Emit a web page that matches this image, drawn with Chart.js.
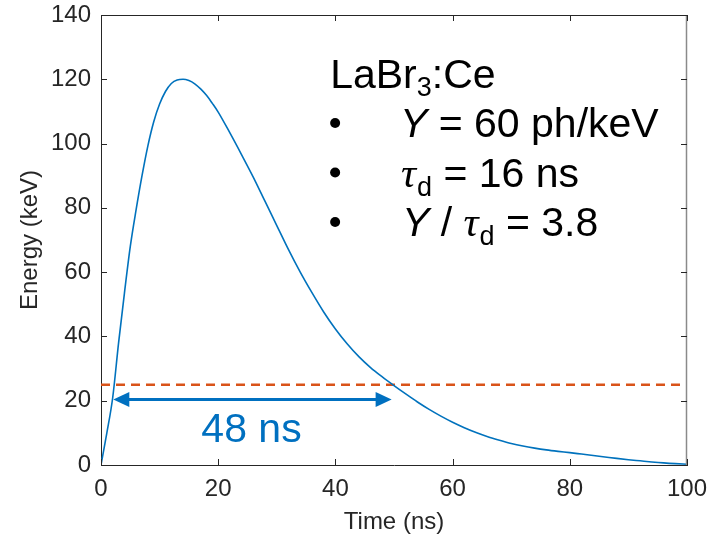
<!DOCTYPE html>
<html><head><meta charset="utf-8">
<script src="https://cdn.jsdelivr.net/npm/chart.js@4"></script>
<style>html,body{margin:0;padding:0;background:#fff}#wrap{width:707px;height:542px}</style>
</head><body><div id="wrap"><canvas id="c" width="707" height="542"></canvas></div>
<script>
// ---- data ----
const timeNs   = [0,1,2,3,4,5,6,7,8,9,10,11,12,13,14,15,16,17,18,19,20,22,24,26,28,30,32,34,36,38,40,42,44,46,48,50,52,54,56,58,60,62,64,66,68,70,72,74,76,78,80,82,84,86,88,90,92,94,96,98,100];
const energyKeV= [0,10,21,38,53.5,68,79.5,90,99.3,106.8,112.3,116.2,118.7,119.8,120,119.6,118.6,117,115,112.5,109.8,103.3,96.5,89.5,82,74.5,67,60,53.6,47.6,42.3,37.7,33.7,30.3,27.4,24.7,22.1,19.6,17.3,15.2,13.3,11.6,10.1,8.8,7.7,6.7,5.9,5.25,4.7,4.25,3.85,3.4,2.95,2.5,2.05,1.65,1.3,0.95,0.65,0.42,0.25];
const thresholdTime = [0,100];
const thresholdKeV  = [25,25];
const widthArrowTime = [2.1,49.6];
const widthArrowKeV  = 20.4;
const widthLabel = '48 ns';
const xTickValues = [0,20,40,60,80,100];
const yTickValues = [0,20,40,60,80,100,120,140];
const xTitle = 'Time (ns)';
const yTitle = 'Energy (keV)';

const BLUE = '#0072BD', ORANGE = '#D95319', ANNOT_BLUE = '#0070C0', AX = '#262626';
const SANS = '"Liberation Sans", Arial, sans-serif';

function drawRuns(ctx, x, y, runs){
  for (const r of runs){
    ctx.font = r.font;
    ctx.fillText(r.t, x, y + (r.dy||0));
    x += ctx.measureText(r.t).width + (r.dx||0);
  }
  return x;
}

const overlay = {
  id:'overlay',
  afterDatasetsDraw(chart){
    const {ctx, chartArea:a, scales:{x,y}} = chart;
    ctx.save();
    // box top/right
    ctx.strokeStyle = AX; ctx.lineWidth = 1;
    ctx.beginPath();
    ctx.moveTo(a.left, a.top+0.5); ctx.lineTo(a.right, a.top+0.5);
    ctx.stroke();
    ctx.strokeStyle = '#8a8a8a'; ctx.lineWidth = 1.5;
    ctx.beginPath();
    ctx.moveTo(a.right-0.5, a.top); ctx.lineTo(a.right-0.5, a.bottom);
    ctx.stroke();
    // inward ticks
    ctx.strokeStyle = AX; ctx.lineWidth = 1;
    const TL = 6;
    ctx.beginPath();
    for (const v of xTickValues){
      const px = Math.round(x.getPixelForValue(v))+0.5;
      ctx.moveTo(px, a.bottom); ctx.lineTo(px, a.bottom-TL);
      ctx.moveTo(px, a.top); ctx.lineTo(px, a.top+TL);
    }
    for (const v of yTickValues){
      const py = Math.round(y.getPixelForValue(v))+0.5;
      ctx.moveTo(a.left, py); ctx.lineTo(a.left+TL, py);
      ctx.moveTo(a.right, py); ctx.lineTo(a.right-TL, py);
    }
    ctx.stroke();

    // double arrow
    const x1 = x.getPixelForValue(widthArrowTime[0]);
    const x2 = x.getPixelForValue(widthArrowTime[1]);
    const ya = y.getPixelForValue(widthArrowKeV);
    const HL = 16, HW = 7.5;
    ctx.strokeStyle = ANNOT_BLUE; ctx.fillStyle = ANNOT_BLUE; ctx.lineWidth = 3;
    ctx.beginPath(); ctx.moveTo(x1+HL-2, ya); ctx.lineTo(x2-HL+2, ya); ctx.stroke();
    ctx.beginPath(); ctx.moveTo(x1, ya); ctx.lineTo(x1+HL, ya-HW); ctx.lineTo(x1+HL, ya+HW); ctx.closePath(); ctx.fill();
    ctx.beginPath(); ctx.moveTo(x2, ya); ctx.lineTo(x2-HL, ya-HW); ctx.lineTo(x2-HL, ya+HW); ctx.closePath(); ctx.fill();
    // arrow label
    ctx.textAlign = 'center'; ctx.textBaseline = 'alphabetic';
    ctx.font = '41px ' + SANS;
    ctx.fillText(widthLabel, 251.5, ya + 43);

    // text block
    ctx.fillStyle = '#000'; ctx.textAlign = 'left';
    const bx = x.getPixelForValue(39.1);
    const big = '41px ' + SANS, it = 'italic 41px ' + SANS, sub = '27px ' + SANS;
    const tau = 'italic 42px "Liberation Serif", "DejaVu Serif", serif';
    const b0 = y.getPixelForValue(116.5) - 3;
    drawRuns(ctx, bx, b0, [{t:'LaBr',font:big},{t:'3',font:'27px '+SANS,dy:8},{t:':Ce',font:big}]);
    const lines = [
      [{t:'Y',font:it},{t:' = 60 ph/keV',font:big}],
      [{t:'τ',font:tau,dx:1},{t:'d',font:sub,dy:9},{t:' = 16 ns',font:big}],
      [{t:'Y',font:it},{t:' / ',font:big},{t:'τ',font:tau,dx:1},{t:'d',font:sub,dy:9},{t:' = 3.8',font:big}]
    ];
    const starts = [400, 401, 402];
    for (let i=0;i<3;i++){
      const base = b0 + 49.5*(i+1);
      ctx.beginPath(); ctx.arc(bx+5, base-14, 5, 0, Math.PI*2); ctx.fill();
      drawRuns(ctx, starts[i], base, lines[i]);
    }
    ctx.restore();
  }
};

new Chart(document.getElementById('c'), {
  type:'line',
  data:{
    datasets:[
      {data: timeNs.map((t,i)=>({x:t,y:energyKeV[i]})), borderColor:BLUE, borderWidth:1.6, pointRadius:0, cubicInterpolationMode:'monotone', fill:false},
      {data: thresholdTime.map((t,i)=>({x:t,y:thresholdKeV[i]})), borderColor:ORANGE, borderWidth:2.5, borderDash:[9,6], pointRadius:0, fill:false}
    ]
  },
  options:{
    responsive:false, animation:false, devicePixelRatio:1,
    layout:{padding:{left:0,top:15,right:20,bottom:0}},
    plugins:{legend:{display:false}, tooltip:{enabled:false}},
    scales:{
      x:{type:'linear', min:0, max:100,
         afterFit(s){ s.height = 77; s.paddingLeft = 0; s.paddingRight = 0; },
         afterBuildTicks(s){ s.ticks = xTickValues.map(v=>({value:v})); },
         grid:{display:false, drawTicks:false},
         border:{display:true, color:AX, width:1},
         ticks:{color:AX, font:{family:SANS, size:24}, padding:10, maxRotation:0},
         title:{display:true, text:xTitle, color:AX, font:{family:SANS, size:24}, padding:{top:0,bottom:5}}},
      y:{type:'linear', min:0, max:140,
         afterFit(s){ s.width = 101; s.paddingTop = 0; s.paddingBottom = 0; },
         afterBuildTicks(s){ s.ticks = yTickValues.map(v=>({value:v})); },
         grid:{display:false, drawTicks:false},
         border:{display:true, color:AX, width:1},
         ticks:{color:AX, font:{family:SANS, size:24}, padding:10},
         title:{display:true, text:yTitle, color:AX, font:{family:SANS, size:24}, padding:{top:16,bottom:0}}}
    }
  },
  plugins:[overlay]
});
</script></body></html>
